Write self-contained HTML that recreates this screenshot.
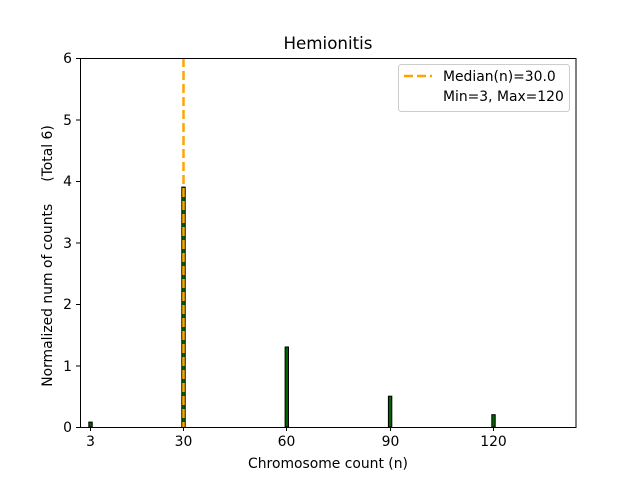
<!DOCTYPE html>
<html><head><style>body{margin:0;background:#fff}svg{display:block;font-family:"DejaVu Sans",sans-serif}</style></head>
<body>
<svg width="640" height="480" xmlns="http://www.w3.org/2000/svg">
<rect width="640" height="480" fill="#fff"/>
<g fill="#006400" stroke="#000" stroke-width="1">
<rect x="88.8" y="422.1" width="3.4" height="4.9"/>
<rect x="181.8" y="187.1" width="3.4" height="239.9"/>
<rect x="285.1" y="347.0" width="3.4" height="80"/>
<rect x="388.4" y="396.2" width="3.4" height="30.8"/>
<rect x="491.8" y="414.7" width="3.4" height="12.3"/>
</g>
<line x1="183.5" y1="58" x2="183.5" y2="427" stroke="#FFA500" stroke-width="2.5" stroke-dasharray="9,4"/>
<rect x="80.5" y="58.5" width="495.5" height="369" fill="none" stroke="#000" stroke-width="1"/>
<g stroke="#000" stroke-width="1">
<line x1="90.5" y1="427" x2="90.5" y2="431"/><line x1="183.5" y1="427" x2="183.5" y2="431"/><line x1="286.5" y1="427" x2="286.5" y2="431"/><line x1="390.5" y1="427" x2="390.5" y2="431"/><line x1="493.5" y1="427" x2="493.5" y2="431"/>
<line x1="76" y1="427.5" x2="80" y2="427.5"/><line x1="76" y1="366" x2="80" y2="366"/><line x1="76" y1="304.5" x2="80" y2="304.5"/><line x1="76" y1="243" x2="80" y2="243"/><line x1="76" y1="181.5" x2="80" y2="181.5"/><line x1="76" y1="120" x2="80" y2="120"/><line x1="76" y1="58.5" x2="80" y2="58.5"/>
</g>
<g font-size="13.9" fill="#000" text-anchor="middle">
<text x="90.5" y="446">3</text><text x="183.5" y="446">30</text><text x="286.5" y="446">60</text><text x="390.5" y="446">90</text><text x="493.5" y="446">120</text>
</g>
<g font-size="13.9" fill="#000" text-anchor="end">
<text x="72" y="432">0</text><text x="72" y="371">1</text><text x="72" y="309">2</text><text x="72" y="248">3</text><text x="72" y="186">4</text><text x="72" y="125">5</text><text x="72" y="63">6</text>
</g>
<text x="328" y="49" font-size="16.7" text-anchor="middle">Hemionitis</text>
<text x="328" y="468" font-size="13.9" text-anchor="middle">Chromosome count (n)</text>
<text transform="translate(52,256) rotate(-90)" font-size="13.9" text-anchor="middle" xml:space="preserve">Normalized num of counts     (Total 6)</text>
<rect x="398.5" y="64.5" width="171" height="47" rx="3" fill="#fff" stroke="#ccc"/>
<line x1="404" y1="76" x2="432" y2="76" stroke="#FFA500" stroke-width="2.5" stroke-dasharray="9,4"/>
<text x="443" y="81" font-size="13.9">Median(n)=30.0</text>
<text x="443" y="101" font-size="13.9">Min=3, Max=120</text>
</svg>
</body></html>
